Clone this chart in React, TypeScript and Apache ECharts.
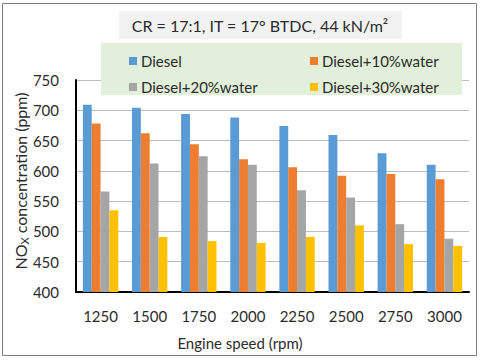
import React, { useEffect, useRef } from "react";
import * as echarts from "echarts";

const categories = ["1250", "1500", "1750", "2000", "2250", "2500", "2750", "3000"];
const diesel = [709, 704, 694, 688, 674, 659, 629, 610];
const water10 = [678, 662, 644, 619, 606, 592, 595, 586];
const water20 = [566, 612, 624, 610, 568, 556, 512, 488];
const water30 = [535, 491, 484, 481, 491, 510, 479, 476];
const seriesNames = ["Diesel", "Diesel+10%water", "Diesel+20%water", "Diesel+30%water"];
const colors = ["#5b9bd5", "#ed7d31", "#a5a5a5", "#ffc000"];
const yTicks = { min: 400, max: 750, interval: 50 };

const FONT = "Lato";
const TXT = "#2b2b2b";

export default function App() {
  const ref = useRef<HTMLDivElement>(null);
  useEffect(() => {
    if (!ref.current) return;
    const chart = echarts.init(ref.current, undefined, { renderer: "svg" });
    const data = [diesel, water10, water20, water30];
    chart.setOption({
      animation: false,
      backgroundColor: "#ffffff",
      grid: { left: 76, right: 11, top: 80, bottom: 68, containLabel: false },
      xAxis: {
        type: "category",
        data: categories,
        axisLine: { show: true, lineStyle: { color: "#000000", width: 2 } },
        axisTick: { show: false },
        axisLabel: { color: TXT, fontFamily: FONT, fontSize: 15, margin: 16 },
      },
      yAxis: {
        type: "value",
        min: yTicks.min,
        max: yTicks.max,
        interval: yTicks.interval,
        axisLine: { show: true, lineStyle: { color: "#000000", width: 2 } },
        axisTick: { show: false },
        axisLabel: { color: TXT, fontFamily: FONT, fontSize: 15, margin: 17 },
        splitLine: { show: true, lineStyle: { color: "#bdbdbd", width: 1 } },
      },
      legend: [
        {
          left: 124,
          top: 48,
          orient: "vertical",
          data: [seriesNames[0], seriesNames[2]],
          itemWidth: 8,
          itemHeight: 8,
          itemGap: 10,
          icon: "rect",
          z: 20,
          textStyle: { color: TXT, fontFamily: FONT, fontSize: 15, lineHeight: 16, padding: [0, 0, 0, -1] },
        },
        {
          left: 305,
          top: 48,
          orient: "vertical",
          data: [seriesNames[1], seriesNames[3]],
          itemWidth: 8,
          itemHeight: 8,
          itemGap: 10,
          icon: "rect",
          z: 20,
          textStyle: { color: TXT, fontFamily: FONT, fontSize: 15, lineHeight: 16, padding: [0, 0, 0, -1] },
        },
      ],
      graphic: [
        {
          type: "rect",
          z: 100,
          silent: true,
          shape: { x: 2.5, y: 3.5, width: 474, height: 352 },
          style: { fill: "none", stroke: "#7f7f7f", lineWidth: 1 },
        },
        {
          type: "rect",
          z: 5,
          shape: { x: 119, y: 11, width: 283, height: 28 },
          style: { fill: "#f2f2f2" },
        },
        {
          type: "text",
          z: 6,
          x: 260,
          y: 25,
          style: {
            text: "CR = 17:1, IT = 17° BTDC, 44 kN/m²",
            fill: TXT,
            font: `16px ${FONT}`,
            align: "center",
            verticalAlign: "middle",
          },
        },
        {
          type: "rect",
          z: 5,
          shape: { x: 101, y: 43, width: 361, height: 52 },
          style: { fill: "#e2efda" },
        },
        {
          type: "text",
          z: 6,
          x: 240,
          y: 343,
          style: {
            text: "Engine speed (rpm)",
            fill: TXT,
            font: `15px ${FONT}`,
            align: "center",
            verticalAlign: "middle",
          },
        },
        {
          type: "text",
          z: 6,
          x: 20,
          y: 181,
          rotation: Math.PI / 2,
          style: {
            text: "{a|NO}{s|X}{a| concentration (ppm)}",
            align: "center",
            verticalAlign: "middle",
            fill: TXT,
            rich: {
              a: { fill: TXT, fontFamily: FONT, fontSize: 16, lineHeight: 20 },
              s: { fill: TXT, fontFamily: FONT, fontSize: 11, verticalAlign: "bottom" },
            },
          },
        },
      ],
      series: seriesNames.map((name, i) => ({
        name,
        type: "bar",
        data: data[i],
        barGap: "0%",
        barCategoryGap: "28%",
        itemStyle: { color: colors[i] },
      })),
    });
    return () => chart.dispose();
  }, []);
  return (
    <div
      ref={ref}
      style={{ position: "fixed", left: 0, top: 0, width: 480, height: 360 }}
    />
  );
}
